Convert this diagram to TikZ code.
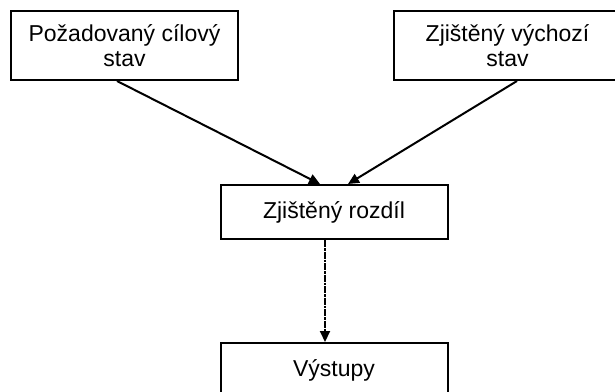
\documentclass[tikz,border=0pt]{standalone}
\usepackage{fontspec}
\setmainfont{Liberation Sans}
\usetikzlibrary{arrows.meta}
\begin{document}
\begin{tikzpicture}[x=1pt,y=1pt,
		box/.style={draw,line width=2pt,align=center,minimum width=227pt,inner sep=0pt,
			font=\fontsize{23}{25}\selectfont},
		topbox/.style={box,minimum height=69pt},
		lowbox/.style={box,minimum height=54pt},
		conn/.style={line width=2pt,-{Triangle[length=11pt,width=10pt]}}]
	\useasboundingbox(0,0)rectangle(615,-391);
	\node[topbox](pozadovany)at(124.5,-45.5){Požadovaný cílový\\stav};
	\node[topbox](vychozi)at(507.5,-45.5){Zjištěný výchozí\\stav};
	\node[lowbox](rozdil)at(334,-212){Zjištěný rozdíl};
	\node[lowbox](vystupy)at(334,-370){Výstupy};
	\draw[conn]([xshift=-7.5pt]pozadovany.south)--([xshift=-14pt]rozdil.north);
	\draw[conn]([xshift=9.5pt]vychozi.south)--([xshift=14pt]rozdil.north);
	\draw[conn,dash pattern=on 7pt off 1pt on 2.5pt off 1pt]([xshift=-9pt]rozdil.south)--([xshift=-9pt]vystupy.north);
\end{tikzpicture}
\end{document}
